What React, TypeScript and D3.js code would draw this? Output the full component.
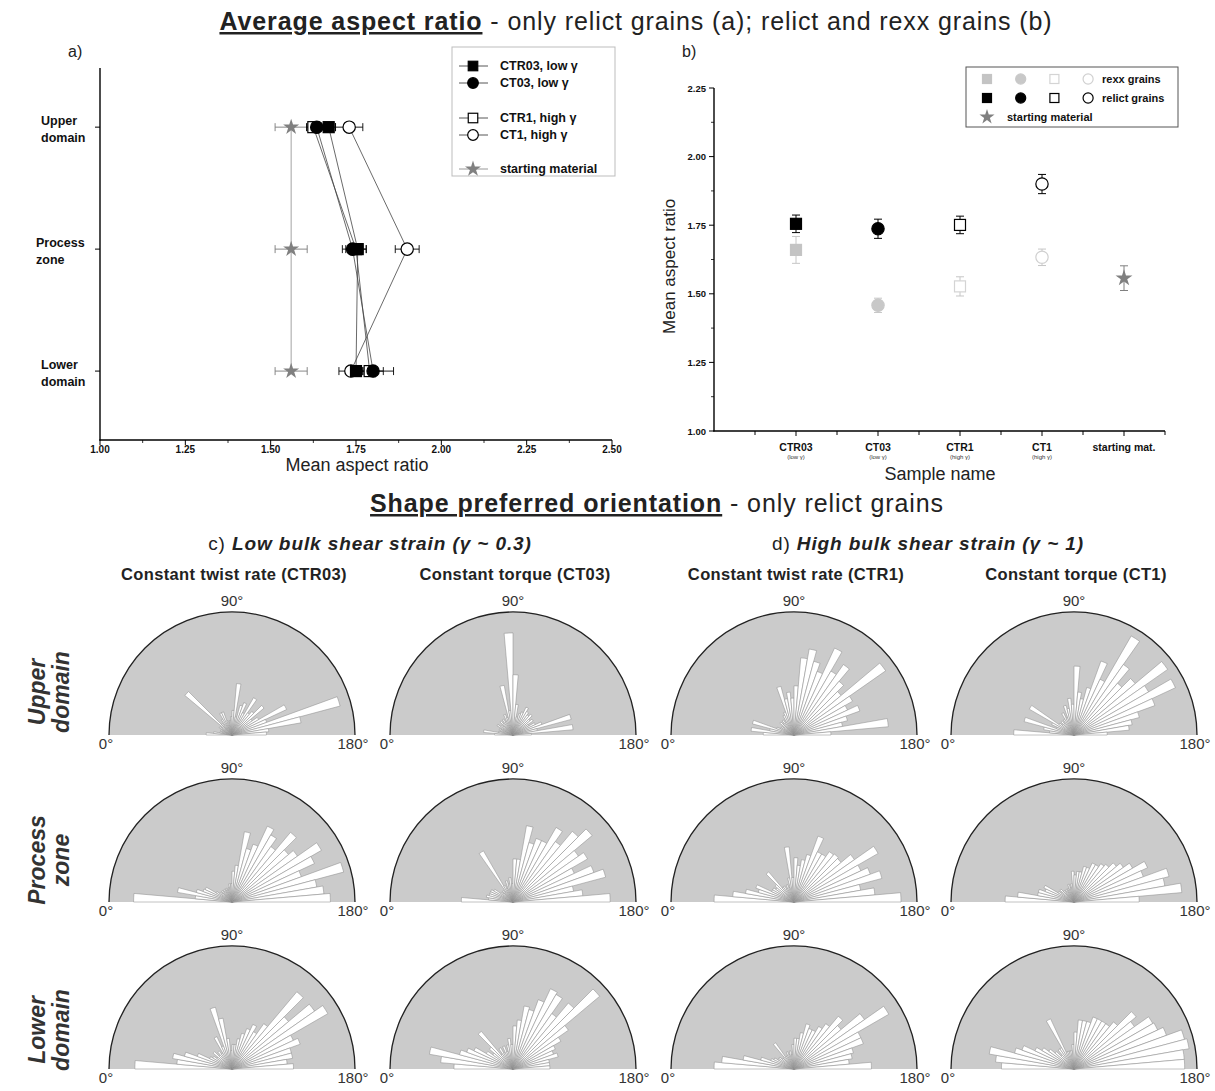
import React, { useEffect } from 'react';
import * as d3 from 'd3';

const FONT = '"Liberation Sans", Arial, Helvetica, sans-serif';

// ---------- Panel a: mean aspect ratio per domain ----------
const zonesA = [['Upper', 'domain'], ['Process', 'zone'], ['Lower', 'domain']];
const ctr03Mean = [1.67, 1.755, 1.75];
const ctr03Err = [0.02, 0.025, 0.02];
const ct03Mean = [1.635, 1.74, 1.8];
const ct03Err = [0.02, 0.03, 0.06];
const ctr1Mean = [1.625, 1.75, 1.79];
const ctr1Err = [0.02, 0.03, 0.04];
const ct1Mean = [1.73, 1.9, 1.735];
const ct1Err = [0.04, 0.035, 0.035];
const startMean = [1.56, 1.56, 1.56];
const startErr = [0.047, 0.047, 0.047];
const xTicksA = [1.0, 1.25, 1.5, 1.75, 2.0, 2.25, 2.5];

// ---------- Panel b: mean aspect ratio per sample ----------
const samplesB = ['CTR03', 'CT03', 'CTR1', 'CT1', 'starting mat.'];
const samplesSubB = ['(low γ)', '(low γ)', '(high γ)', '(high γ)', ''];
const rexxMean = [1.66, 1.458, 1.527, 1.633];
const rexxErr = [0.049, 0.026, 0.035, 0.03];
const relictMean = [1.755, 1.737, 1.751, 1.9];
const relictErr = [0.032, 0.035, 0.032, 0.035];
const startMeanB = [1.557];
const startErrB = [0.045];
const yTicksB = [1.0, 1.25, 1.5, 1.75, 2.0, 2.25];

// ---------- Rose diagrams (5° bins, 0° left → 180° right), relative frequency ----------
const roseCols = ['Constant twist rate (CTR03)', 'Constant torque (CT03)', 'Constant twist rate (CTR1)', 'Constant torque (CT1)'];
const roseRows = [['Upper', 'domain'], ['Process', 'zone'], ['Lower', 'domain']];
const roseCTR03Upper = [0.21, 0.15, 0.1, 0.08, 0.1, 0.08, 0.12, 0.1, 0.5, 0.12, 0.1, 0.15, 0.2, 0.2, 0.12, 0.1, 0.12, 0.15, 0.2, 0.42, 0.15, 0.25, 0.28, 0.2, 0.35, 0.22, 0.25, 0.34, 0.2, 0.25, 0.49, 0.3, 0.91, 0.57, 0.3, 0.28];
const roseCT03Upper = [0.15, 0.24, 0.12, 0.1, 0.12, 0.1, 0.15, 0.12, 0.1, 0.15, 0.12, 0.15, 0.12, 0.18, 0.15, 0.41, 0.2, 0.83, 0.49, 0.25, 0.15, 0.18, 0.2, 0.25, 0.22, 0.2, 0.22, 0.18, 0.2, 0.15, 0.2, 0.25, 0.49, 0.2, 0.49, 0.15];
const roseCTR1Upper = [0.25, 0.35, 0.2, 0.35, 0.15, 0.12, 0.12, 0.1, 0.15, 0.12, 0.15, 0.12, 0.18, 0.2, 0.41, 0.3, 0.35, 0.3, 0.4, 0.63, 0.71, 0.62, 0.55, 0.78, 0.6, 0.7, 0.57, 0.5, 0.91, 0.55, 0.48, 0.57, 0.45, 0.4, 0.77, 0.3];
const roseCT1Upper = [0.49, 0.2, 0.25, 0.42, 0.15, 0.2, 0.42, 0.15, 0.12, 0.15, 0.12, 0.15, 0.2, 0.15, 0.25, 0.22, 0.3, 0.25, 0.56, 0.35, 0.3, 0.4, 0.64, 0.5, 0.93, 0.7, 0.55, 0.65, 0.93, 0.7, 0.91, 0.7, 0.55, 0.48, 0.45, 0.27];
const roseCTR03Process = [0.8, 0.3, 0.45, 0.3, 0.25, 0.24, 0.15, 0.12, 0.1, 0.12, 0.1, 0.12, 0.1, 0.12, 0.1, 0.12, 0.15, 0.15, 0.25, 0.3, 0.58, 0.45, 0.5, 0.68, 0.63, 0.55, 0.74, 0.6, 0.65, 0.84, 0.74, 0.6, 0.94, 0.7, 0.75, 0.8];
const roseCT03Process = [0.42, 0.2, 0.22, 0.2, 0.2, 0.2, 0.18, 0.12, 0.1, 0.12, 0.1, 0.48, 0.15, 0.12, 0.18, 0.15, 0.2, 0.15, 0.35, 0.35, 0.63, 0.5, 0.55, 0.55, 0.7, 0.6, 0.75, 0.84, 0.65, 0.7, 0.55, 0.7, 0.78, 0.5, 0.57, 0.79];
const roseCTR1Process = [0.65, 0.5, 0.4, 0.3, 0.33, 0.2, 0.2, 0.18, 0.2, 0.32, 0.15, 0.15, 0.12, 0.15, 0.12, 0.2, 0.45, 0.2, 0.36, 0.3, 0.35, 0.4, 0.57, 0.45, 0.45, 0.5, 0.51, 0.5, 0.6, 0.79, 0.6, 0.66, 0.74, 0.55, 0.66, 0.87];
const roseCT1Process = [0.56, 0.46, 0.3, 0.3, 0.25, 0.27, 0.15, 0.12, 0.15, 0.12, 0.1, 0.12, 0.1, 0.12, 0.15, 0.12, 0.15, 0.25, 0.22, 0.25, 0.25, 0.3, 0.3, 0.35, 0.35, 0.38, 0.4, 0.45, 0.49, 0.55, 0.66, 0.6, 0.8, 0.75, 0.88, 0.53];
const roseCTR03Lower = [0.79, 0.45, 0.49, 0.4, 0.3, 0.2, 0.18, 0.15, 0.2, 0.15, 0.18, 0.15, 0.29, 0.2, 0.52, 0.42, 0.25, 0.15, 0.2, 0.2, 0.25, 0.3, 0.35, 0.4, 0.35, 0.45, 0.82, 0.6, 0.82, 0.9, 0.55, 0.59, 0.5, 0.5, 0.45, 0.5];
const roseCT03Lower = [0.48, 0.59, 0.69, 0.45, 0.4, 0.35, 0.25, 0.2, 0.25, 0.4, 0.15, 0.2, 0.15, 0.2, 0.15, 0.2, 0.25, 0.2, 0.35, 0.4, 0.52, 0.5, 0.6, 0.72, 0.7, 0.55, 0.7, 0.92, 0.55, 0.45, 0.38, 0.35, 0.38, 0.3, 0.3, 0.3];
const roseCTR1Lower = [0.65, 0.59, 0.42, 0.28, 0.2, 0.18, 0.15, 0.15, 0.12, 0.12, 0.26, 0.12, 0.12, 0.15, 0.12, 0.15, 0.12, 0.2, 0.25, 0.25, 0.3, 0.38, 0.35, 0.35, 0.4, 0.45, 0.56, 0.5, 0.7, 0.89, 0.6, 0.6, 0.5, 0.48, 0.45, 0.63];
const roseCT1Lower = [0.59, 0.64, 0.7, 0.5, 0.45, 0.35, 0.3, 0.25, 0.2, 0.15, 0.2, 0.2, 0.45, 0.15, 0.15, 0.15, 0.15, 0.2, 0.3, 0.4, 0.4, 0.4, 0.45, 0.45, 0.45, 0.45, 0.5, 0.66, 0.6, 0.74, 0.75, 0.8, 0.93, 0.95, 0.9, 0.9];

const roseData = [
  [roseCTR03Upper, roseCT03Upper, roseCTR1Upper, roseCT1Upper],
  [roseCTR03Process, roseCT03Process, roseCTR1Process, roseCT1Process],
  [roseCTR03Lower, roseCT03Lower, roseCTR1Lower, roseCT1Lower],
];

const BIN = 5;
const toRad = (deg: number) => (deg * Math.PI) / 180;

type MarkerKind = 'fsq' | 'fci' | 'osq' | 'oci' | 'star';

function Marker({ kind, x, y, color = '#000', fill, s = 1 }: { kind: MarkerKind; x: number; y: number; color?: string; fill?: string; s?: number }) {
  if (kind === 'fsq' || kind === 'osq') {
    const a = 10 * s;
    return (
      <rect x={x - a / 2} y={y - a / 2} width={a} height={a}
        fill={kind === 'fsq' ? (fill || color) : '#fff'} stroke={color} strokeWidth={1.2} />
    );
  }
  if (kind === 'fci' || kind === 'oci') {
    return <circle cx={x} cy={y} r={5.6 * s} fill={kind === 'fci' ? (fill || color) : '#fff'} stroke={color} strokeWidth={1.2} />;
  }
  const p = d3.symbol().type(d3.symbolStar).size(110 * s * s)() as string;
  return <path d={p} transform={`translate(${x},${y})`} fill={color} stroke="none" />;
}

function PanelA() {
  const x = d3.scaleLinear().domain([1, 2.5]).range([100, 612]);
  const y = d3.scaleLinear().domain([-0.485, 2.565]).range([68, 440]);
  const series = [
    { name: 'starting material', mean: startMean, err: startErr, kind: 'star' as MarkerKind, color: '#808080', line: '#8c8c8c' },
    { name: 'CT1', mean: ct1Mean, err: ct1Err, kind: 'oci' as MarkerKind, color: '#000', line: '#444' },
    { name: 'CTR1', mean: ctr1Mean, err: ctr1Err, kind: 'osq' as MarkerKind, color: '#000', line: '#444' },
    { name: 'CTR03', mean: ctr03Mean, err: ctr03Err, kind: 'fsq' as MarkerKind, color: '#000', line: '#444' },
    { name: 'CT03', mean: ct03Mean, err: ct03Err, kind: 'fci' as MarkerKind, color: '#000', line: '#444' },
  ];
  const line = d3.line<number>().x((d) => x(d)).y((_, i) => y(i));
  const minor = d3.range(1.125, 2.5, 0.25);
  const legend = [
    { label: 'CTR03, low γ', kind: 'fsq' as MarkerKind, color: '#000', yy: 66 },
    { label: 'CT03, low γ', kind: 'fci' as MarkerKind, color: '#000', yy: 83 },
    { label: 'CTR1, high γ', kind: 'osq' as MarkerKind, color: '#000', yy: 118 },
    { label: 'CT1, high γ', kind: 'oci' as MarkerKind, color: '#000', yy: 135 },
    { label: 'starting material', kind: 'star' as MarkerKind, color: '#808080', yy: 169 },
  ];
  return (
    <g>
      <text x={68} y={57} fontSize={16} fill="#222">a)</text>
      <line x1={100} y1={68} x2={100} y2={440.5} stroke="#000" strokeWidth={1.4} />
      <line x1={99.3} y1={440} x2={612} y2={440} stroke="#000" strokeWidth={1.4} />
      {xTicksA.map((t) => (
        <g key={t}>
          <line x1={x(t)} x2={x(t)} y1={440} y2={445} stroke="#000" strokeWidth={1} />
          <text x={x(t)} y={453} fontSize={10} fontWeight="bold" textAnchor="middle" fill="#111">{t.toFixed(2)}</text>
        </g>
      ))}
      {minor.map((t) => (
        <line key={t} x1={x(t)} x2={x(t)} y1={440} y2={443} stroke="#000" strokeWidth={0.8} />
      ))}
      <text x={357} y={471} fontSize={18} textAnchor="middle" fill="#222">Mean aspect ratio</text>
      {zonesA.map((z, i) => (
        <g key={i}>
          <line x1={95} x2={100} y1={y(i)} y2={y(i)} stroke="#000" strokeWidth={1} />
          <text x={i === 1 ? 36 : 41} y={y(i) - 2} fontSize={12.5} fontWeight="bold" fill="#111">
            <tspan x={i === 1 ? 36 : 41} dy={0}>{z[0]}</tspan>
            <tspan x={i === 1 ? 36 : 41} dy={16.5}>{z[1]}</tspan>
          </text>
        </g>
      ))}
      {series.map((s) => (
        <path key={s.name} d={line(s.mean) as string} fill="none" stroke={s.line} strokeWidth={0.8} />
      ))}
      {series.map((s) =>
        s.mean.map((m, i) => {
          const c = s.kind === 'star' ? '#7a7a7a' : '#000';
          return (
            <g key={s.name + i} stroke={c} strokeWidth={0.9}>
              <line x1={x(m - s.err[i])} x2={x(m + s.err[i])} y1={y(i)} y2={y(i)} />
              <line x1={x(m - s.err[i])} x2={x(m - s.err[i])} y1={y(i) - 4} y2={y(i) + 4} />
              <line x1={x(m + s.err[i])} x2={x(m + s.err[i])} y1={y(i) - 4} y2={y(i) + 4} />
            </g>
          );
        })
      )}
      {series.map((s) =>
        s.mean.map((m, i) => <Marker key={s.name + 'm' + i} kind={s.kind} x={x(m)} y={y(i)} color={s.color} s={s.kind === 'star' ? 0.85 : 1.1} />)
      )}
      <rect x={452} y={47} width={163} height={129} fill="#fff" stroke="#bdbdbd" strokeWidth={1} />
      {legend.map((l) => (
        <g key={l.label}>
          <line x1={459} x2={488} y1={l.yy} y2={l.yy} stroke={l.kind === 'star' ? '#8c8c8c' : '#444'} strokeWidth={0.9} />
          <Marker kind={l.kind} x={473} y={l.yy} color={l.color} s={l.kind === 'star' ? 0.85 : 0.95} />
          <text x={500} y={l.yy + 4} fontSize={12.5} fontWeight="bold" fill="#111">{l.label}</text>
        </g>
      ))}
    </g>
  );
}

function PanelB() {
  const x = d3.scaleLinear().domain([0, 5.5]).range([714, 1165]);
  const y = d3.scaleLinear().domain([1, 2.25]).range([431, 88]);
  const minorY = d3.range(1.125, 2.25, 0.25);
  const xt = d3.range(0.5, 5.51, 0.5);
  const rexxKinds: MarkerKind[] = ['fsq', 'fci', 'osq', 'oci'];
  const rexxColors = ['#c4c4c4', '#c8c8c8', '#d4d4d4', '#d0d0d0'];
  const errBar = (cx: number, m: number, e: number, c: string, key: string) => (
    <g key={key} stroke={c} strokeWidth={1}>
      <line x1={cx} x2={cx} y1={y(m - e)} y2={y(m + e)} />
      <line x1={cx - 4} x2={cx + 4} y1={y(m - e)} y2={y(m - e)} />
      <line x1={cx - 4} x2={cx + 4} y1={y(m + e)} y2={y(m + e)} />
    </g>
  );
  return (
    <g>
      <text x={682} y={57} fontSize={16} fill="#222">b)</text>
      <line x1={714} y1={88} x2={714} y2={431.5} stroke="#000" strokeWidth={1.4} />
      <line x1={713.3} y1={431} x2={1165} y2={431} stroke="#000" strokeWidth={1.4} />
      {yTicksB.map((t) => (
        <g key={t}>
          <line x1={709} x2={714} y1={y(t)} y2={y(t)} stroke="#000" strokeWidth={1} />
          <text x={706} y={y(t) + 3.5} fontSize={9.5} fontWeight="bold" textAnchor="end" fill="#111">{t.toFixed(2)}</text>
        </g>
      ))}
      {minorY.map((t) => (
        <line key={t} x1={711} x2={714} y1={y(t)} y2={y(t)} stroke="#000" strokeWidth={0.8} />
      ))}
      {xt.map((t) => (
        <line key={t} x1={x(t)} x2={x(t)} y1={431} y2={Number.isInteger(t) ? 436 : 435} stroke="#000" strokeWidth={1} />
      ))}
      {samplesB.map((s, i) => (
        <g key={s}>
          <text x={x(i + 1)} y={451} fontSize={10.5} fontWeight="bold" textAnchor="middle" fill="#111">{s}</text>
          <text x={x(i + 1)} y={459} fontSize={6} textAnchor="middle" fill="#333">{samplesSubB[i]}</text>
        </g>
      ))}
      <text x={940} y={480} fontSize={18} textAnchor="middle" fill="#222">Sample name</text>
      <text transform={`translate(675,${y(1.6)}) rotate(-90)`} fontSize={17} textAnchor="middle" fill="#222">Mean aspect ratio</text>
      {rexxMean.map((m, i) => errBar(x(i + 1), m, rexxErr[i], '#c6c6c6', 're' + i))}
      {rexxMean.map((m, i) => (
        <Marker key={'rm' + i} kind={rexxKinds[i]} x={x(i + 1)} y={y(m)} color={rexxColors[i]} s={1.1} />
      ))}
      {relictMean.map((m, i) => errBar(x(i + 1), m, relictErr[i], '#000', 'le' + i))}
      {relictMean.map((m, i) => (
        <Marker key={'lm' + i} kind={rexxKinds[i]} x={x(i + 1)} y={y(m)} color="#000" s={1.1} />
      ))}
      {startMeanB.map((m, i) => errBar(x(5), m, startErrB[i], '#808080', 'se' + i))}
      {startMeanB.map((m, i) => <Marker key={'sm' + i} kind="star" x={x(5)} y={y(m)} color="#808080" s={0.9} />)}
      <rect x={966} y={67} width={212} height={60} fill="#fff" stroke="#555" strokeWidth={1} />
      {rexxKinds.map((k, i) => (
        <Marker key={'lg1' + i} kind={k} x={987 + i * 33.7} y={79} color={rexxColors[i]} s={0.9} />
      ))}
      {rexxKinds.map((k, i) => (
        <Marker key={'lg2' + i} kind={k} x={987 + i * 33.7} y={98} color="#000" s={0.9} />
      ))}
      <Marker kind="star" x={987} y={117} color="#808080" s={0.8} />
      <text x={1102} y={83} fontSize={11} fontWeight="bold" fill="#111">rexx grains</text>
      <text x={1102} y={102} fontSize={11} fontWeight="bold" fill="#111">relict grains</text>
      <text x={1007} y={121} fontSize={11} fontWeight="bold" fill="#111">starting material</text>
    </g>
  );
}

function Rose({ cx, cy, data }: { cx: number; cy: number; data: number[] }) {
  const R = 123;
  const r = d3.scaleLinear().domain([0, 1]).range([0, R]);
  const bg = d3.arc()({ innerRadius: 0, outerRadius: R, startAngle: -Math.PI / 2, endAngle: Math.PI / 2 } as any) as string;
  const p = d3.path();
  p.moveTo(-R, 0);
  p.arc(0, 0, R, Math.PI, 2 * Math.PI);
  const wedge = d3.arc();
  return (
    <g>
      <g transform={`translate(${cx},${cy})`}>
        <path d={bg} fill="#cbcbcb" stroke="none" />
        <path d={p.toString()} fill="none" stroke="#222" strokeWidth={1.3} />
        {data.map((v, i) => (
          <path key={i}
            d={wedge({ innerRadius: 0, outerRadius: r(v), startAngle: toRad(i * BIN - 90), endAngle: toRad((i + 1) * BIN - 90) } as any) as string}
            fill="#fff" stroke="#8f8f8f" strokeWidth={0.55} strokeLinejoin="miter" />
        ))}
      </g>
      <text x={cx} y={cy - 129} fontSize={15} textAnchor="middle" fill="#333">90°</text>
      <text x={cx - 126} y={cy + 14} fontSize={15} textAnchor="middle" fill="#333">0°</text>
      <text x={cx + 121} y={cy + 14} fontSize={15} textAnchor="middle" fill="#333">180°</text>
    </g>
  );
}

function Roses() {
  const colX = [232, 513, 794, 1074];
  const rowY = [735, 902, 1069];
  const rowLabelY = [692, 860, 1030];
  return (
    <g>
      <text x={657} y={512} fontSize={25} letterSpacing={0.9} textAnchor="middle" fill="#222">
        <tspan fontWeight="bold" textDecoration="underline">Shape preferred orientation</tspan>
        <tspan> - only relict grains</tspan>
      </text>
      <text x={370} y={550} fontSize={19} letterSpacing={0.9} textAnchor="middle" fill="#222">
        <tspan>c) </tspan>
        <tspan fontWeight="bold" fontStyle="italic">Low bulk shear strain (γ ~ 0.3)</tspan>
      </text>
      <text x={928} y={550} fontSize={19} letterSpacing={0.9} textAnchor="middle" fill="#222">
        <tspan>d) </tspan>
        <tspan fontWeight="bold" fontStyle="italic">High bulk shear strain (γ ~ 1)</tspan>
      </text>
      {roseCols.map((c, i) => (
        <text key={c} x={colX[i] + 2} y={580} fontSize={16.5} letterSpacing={0.35} fontWeight="bold" textAnchor="middle" fill="#222">{c}</text>
      ))}
      {roseRows.map((rl, j) => (
        <text key={j} transform={`translate(0,${rowLabelY[j]}) rotate(-90)`} fontSize={23} fontWeight="bold" fontStyle="italic" textAnchor="middle" fill="#333">
          <tspan x={0} y={45}>{rl[0]}</tspan>
          <tspan x={0} y={69}>{rl[1]}</tspan>
        </text>
      ))}
      {roseData.map((row, j) => row.map((d, i) => <Rose key={`${j}-${i}`} cx={colX[i]} cy={rowY[j]} data={d} />))}
    </g>
  );
}

export default function App() {
  useEffect(() => {
    document.body.style.margin = '0';
  }, []);
  return (
    <div style={{ position: 'absolute', left: 0, top: 0 }}>
      <svg width={1215} height={1091} style={{ display: 'block', fontFamily: FONT, background: '#fff' }}>
        <rect x={0} y={0} width={1215} height={1091} fill="#fff" />
        <text x={636} y={30} fontSize={25} letterSpacing={0.9} textAnchor="middle" fill="#222">
          <tspan fontWeight="bold" textDecoration="underline">Average aspect ratio</tspan>
          <tspan> - only relict grains (a); relict and rexx grains (b)</tspan>
        </text>
        <PanelA />
        <PanelB />
        <Roses />
      </svg>
    </div>
  );
}
